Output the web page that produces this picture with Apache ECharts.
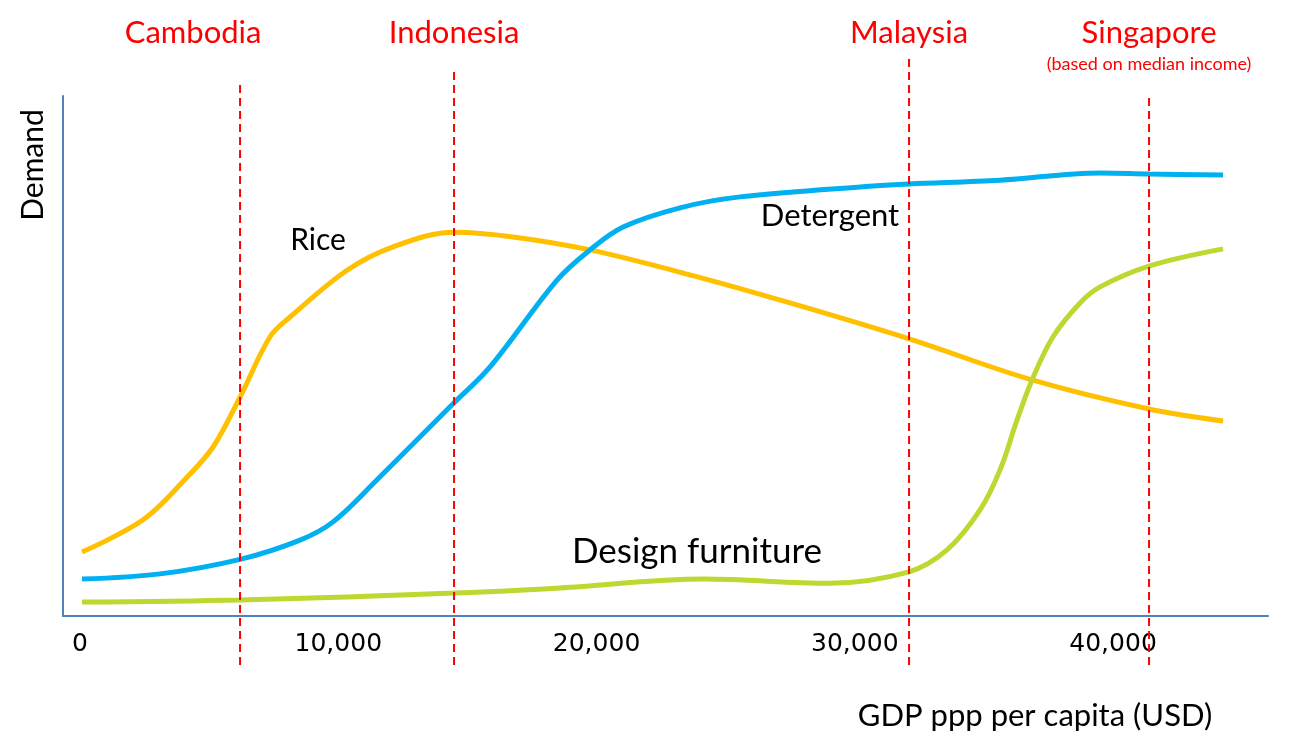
<!DOCTYPE html>
<html>
<head>
<meta charset="utf-8">
<script src="https://cdn.jsdelivr.net/npm/echarts@6/dist/echarts.min.js"></script>
<style>
  html, body { margin: 0; padding: 0; background: #fff; }
  #chart { width: 1314px; height: 752px; }
</style>
</head>
<body>
<div id="chart"></div>
<script>
// GDP ppp per capita (USD) -> demand (0..100, arbitrary units)
var riceX = [77, 2440, 4143, 5150, 6196, 7357, 8132, 10339, 12120, 14482, 16767, 19748, 23620, 27492, 32101, 36863, 41394, 44259]
var riceY = [12.3, 18.5, 26.7, 32.5, 42.1, 53.7, 57.5, 66.5, 71.0, 73.8, 72.9, 70.4, 65.6, 60.2, 53.3, 45.4, 39.8, 37.5]

var detergentX = [77, 3098, 6196, 8519, 9797, 11501, 14482, 15876, 18470, 19748, 21026, 23233, 25557, 30707, 32101, 35624, 39497, 41394, 44259]
var detergentY = [7.1, 8.1, 10.9, 14.6, 18.1, 26.2, 41.0, 47.9, 64.6, 70.4, 74.8, 78.5, 80.6, 82.7, 83.1, 83.8, 85.2, 85.0, 84.8]

var furnitureX = [77, 6196, 14482, 18587, 24163, 29003, 32101, 33572, 34850, 35624, 36283, 36863, 37677, 38722, 39497, 41394, 44259]
var furnitureY = [2.7, 3.1, 4.4, 5.4, 7.1, 6.3, 8.5, 12.7, 20.4, 28.1, 37.7, 45.4, 53.7, 60.2, 63.3, 67.3, 70.6]

// country markers (income level) and how far each dashed line reaches
var countries = ['Cambodia', 'Indonesia', 'Malaysia', 'Singapore']
var countryGdp = [6196, 14482, 32101, 41394]
var countryLineTop = [102.5, 104.6, 107.7, 100]
var lineBottom = -9.4

var xTicks = [0, 10000, 20000, 30000, 40000]

var FONT = 'Lato, "Open Sans", sans-serif'

function pairs (xs, ys) {
	return xs.map(function (x, i) { return [x, ys[i]] })
}

var chart = echarts.init(document.getElementById('chart'))

function curve (name, xs, ys, color) {
	return {
		name: name,
		type: 'line',
		data: pairs(xs, ys),
		smooth: 0.35,
		showSymbol: false,
		lineStyle: { color: color, width: 5 },
		z: 3
	}
}

var series = [
	curve('Rice', riceX, riceY, '#FFC000'),
	curve('Detergent', detergentX, detergentY, '#00B0F0'),
	curve('Design furniture', furnitureX, furnitureY, '#BFD730')
]

// red dashed guide lines, drawn past the grid (clip off)
countries.forEach(function (c, i) {
	series.push({
		name: c,
		type: 'line',
		data: [[countryGdp[i], lineBottom], [countryGdp[i], countryLineTop[i]]],
		showSymbol: false,
		clip: false,
		silent: true,
		lineStyle: { color: '#FF0000', width: 2, type: [8, 5] },
		z: 4
	})
})

chart.setOption({
	animation: false,
	grid: { left: 63, top: 96, right: 46, bottom: 136 },
	xAxis: {
		type: 'value',
		min: -660,
		max: 46000,
		splitLine: { show: false },
		axisTick: { show: false },
		axisLine: { onZero: false, lineStyle: { color: '#4F81BD', width: 2 } },
		axisLabel: {
			customValues: xTicks,
			margin: 16,
			color: '#000',
			fontFamily: '"DejaVu Sans", sans-serif',
			fontSize: 25,
			formatter: function (v) { return v.toLocaleString('en-US') }
		}
	},
	yAxis: {
		type: 'value',
		min: 0,
		max: 100,
		splitLine: { show: false },
		axisTick: { show: false },
		axisLabel: { show: false },
		axisLine: { show: true, onZero: false, lineStyle: { color: '#4F81BD', width: 2 } }
	},
	series: series
})

// text annotations
var graphics = []
function addText (text, x, y, size, color, rotation) {
	graphics.push({
		type: 'text',
		x: x,
		y: y,
		rotation: rotation || 0,
		style: {
			text: text,
			fill: color,
			font: size + 'px ' + FONT,
			align: 'center',
			verticalAlign: 'middle'
		},
		z: 10
	})
}

var labelShift = [-47, 0, 0, 0]
countries.forEach(function (c, i) {
	var px = chart.convertToPixel({ xAxisIndex: 0 }, countryGdp[i])
	addText(c, px + labelShift[i], 33, 31, '#FF0000')
})
addText('(based on median income)', chart.convertToPixel({ xAxisIndex: 0 }, countryGdp[3]), 64, 18, '#FF0000')

addText('Rice', 318, 240, 30, '#000')
addText('Detergent', 830, 216, 31, '#000')
addText('Design furniture', 697, 552, 35, '#000')
addText('Demand', 33, 165, 30, '#000', Math.PI / 2)
addText('GDP ppp per capita (USD)', 1035, 716, 31, '#000')

chart.setOption({ graphic: graphics })
</script>
</body>
</html>
